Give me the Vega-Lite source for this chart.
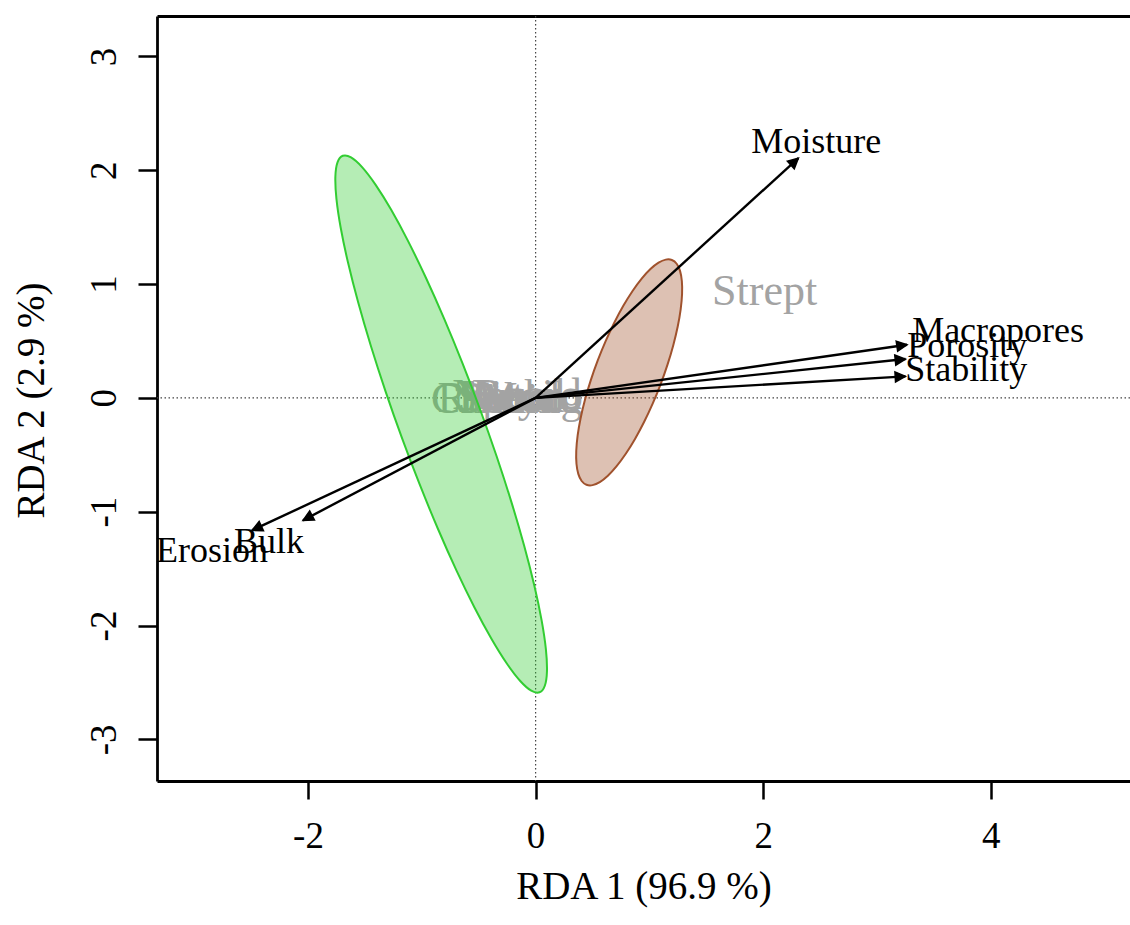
{
  "$schema": "https://vega.github.io/schema/vega-lite/v6.json",
  "width": 973,
  "height": 765,
  "autosize": {"type": "none"},
  "padding": {"left": 157, "top": 16, "right": 0, "bottom": 144},
  "background": "white",
  "config": {
    "view": {"stroke": null},
    "font": "Liberation Serif",
    "axis": {
      "grid": false,
      "domainColor": "black",
      "domainWidth": 2.8,
      "tickColor": "black",
      "tickWidth": 2.5,
      "labelFont": "Liberation Serif",
      "labelColor": "black",
      "titleFont": "Liberation Serif",
      "titleColor": "black",
      "titleFontWeight": "normal"
    }
  },
  "datasets": {
    "sites": [
      {"name": "Rhizo", "x": -0.40, "y": -0.12},
      {"name": "Clost", "x": -0.51, "y": -0.13},
      {"name": "Nitro", "x": -0.27, "y": -0.11},
      {"name": "Pseud", "x": -0.21, "y": -0.12},
      {"name": "Bacil", "x": -0.14, "y": -0.10},
      {"name": "Myco", "x": -0.05, "y": -0.12},
      {"name": "Arthro", "x": -0.10, "y": -0.11},
      {"name": "Sphing", "x": -0.137, "y": -0.13},
      {"name": "Nocard", "x": -0.164, "y": -0.10},
      {"name": "Acido", "x": -0.067, "y": -0.13},
      {"name": "Strept", "x": 2.012, "y": 0.813}
    ],
    "ellipses": [
      {"group": "Group 1", "k": 0, "x": -1.6944, "y": 2.1268},
      {"group": "Group 1", "k": 1, "x": -1.6217, "y": 2.1128},
      {"group": "Group 1", "k": 2, "x": -1.5249, "y": 2.0277},
      {"group": "Group 1", "k": 3, "x": -1.4071, "y": 1.8740},
      {"group": "Group 1", "k": 4, "x": -1.2716, "y": 1.6563},
      {"group": "Group 1", "k": 5, "x": -1.1228, "y": 1.3813},
      {"group": "Group 1", "k": 6, "x": -0.9651, "y": 1.0574},
      {"group": "Group 1", "k": 7, "x": -0.8032, "y": 0.6943},
      {"group": "Group 1", "k": 8, "x": -0.6422, "y": 0.3032},
      {"group": "Group 1", "k": 9, "x": -0.4869, "y": -0.1041},
      {"group": "Group 1", "k": 10, "x": -0.3420, "y": -0.5153},
      {"group": "Group 1", "k": 11, "x": -0.2119, "y": -0.9178},
      {"group": "Group 1", "k": 12, "x": -0.1006, "y": -1.2994},
      {"group": "Group 1", "k": 13, "x": -0.0115, "y": -1.6485},
      {"group": "Group 1", "k": 14, "x": 0.0528, "y": -1.9545},
      {"group": "Group 1", "k": 15, "x": 0.0902, "y": -2.2081},
      {"group": "Group 1", "k": 16, "x": 0.0997, "y": -2.4016},
      {"group": "Group 1", "k": 17, "x": 0.0809, "y": -2.5291},
      {"group": "Group 1", "k": 18, "x": 0.0344, "y": -2.5868},
      {"group": "Group 1", "k": 19, "x": -0.0383, "y": -2.5728},
      {"group": "Group 1", "k": 20, "x": -0.1351, "y": -2.4877},
      {"group": "Group 1", "k": 21, "x": -0.2530, "y": -2.3340},
      {"group": "Group 1", "k": 22, "x": -0.3884, "y": -2.1163},
      {"group": "Group 1", "k": 23, "x": -0.5372, "y": -1.8413},
      {"group": "Group 1", "k": 24, "x": -0.6950, "y": -1.5174},
      {"group": "Group 1", "k": 25, "x": -0.8568, "y": -1.1543},
      {"group": "Group 1", "k": 26, "x": -1.0178, "y": -0.7632},
      {"group": "Group 1", "k": 27, "x": -1.1731, "y": -0.3559},
      {"group": "Group 1", "k": 28, "x": -1.3180, "y": 0.0553},
      {"group": "Group 1", "k": 29, "x": -1.4481, "y": 0.4578},
      {"group": "Group 1", "k": 30, "x": -1.5594, "y": 0.8394},
      {"group": "Group 1", "k": 31, "x": -1.6485, "y": 1.1885},
      {"group": "Group 1", "k": 32, "x": -1.7128, "y": 1.4945},
      {"group": "Group 1", "k": 33, "x": -1.7502, "y": 1.7481},
      {"group": "Group 1", "k": 34, "x": -1.7597, "y": 1.9416},
      {"group": "Group 1", "k": 35, "x": -1.7409, "y": 2.0691},
      {"group": "Strept", "k": 0, "x": 1.1973, "y": 1.2114},
      {"group": "Strept", "k": 1, "x": 1.1436, "y": 1.2146},
      {"group": "Strept", "k": 2, "x": 1.0803, "y": 1.1878},
      {"group": "Strept", "k": 3, "x": 1.0090, "y": 1.1316},
      {"group": "Strept", "k": 4, "x": 0.9321, "y": 1.0478},
      {"group": "Strept", "k": 5, "x": 0.8518, "y": 0.9391},
      {"group": "Strept", "k": 6, "x": 0.7706, "y": 0.8086},
      {"group": "Strept", "k": 7, "x": 0.6910, "y": 0.6603},
      {"group": "Strept", "k": 8, "x": 0.6154, "y": 0.4988},
      {"group": "Strept", "k": 9, "x": 0.5460, "y": 0.3289},
      {"group": "Strept", "k": 10, "x": 0.4850, "y": 0.1558},
      {"group": "Strept", "k": 11, "x": 0.4343, "y": -0.0152},
      {"group": "Strept", "k": 12, "x": 0.3953, "y": -0.1789},
      {"group": "Strept", "k": 13, "x": 0.3694, "y": -0.3304},
      {"group": "Strept", "k": 14, "x": 0.3571, "y": -0.4650},
      {"group": "Strept", "k": 15, "x": 0.3590, "y": -0.5787},
      {"group": "Strept", "k": 16, "x": 0.3750, "y": -0.6680},
      {"group": "Strept", "k": 17, "x": 0.4045, "y": -0.7302},
      {"group": "Strept", "k": 18, "x": 0.4467, "y": -0.7634},
      {"group": "Strept", "k": 19, "x": 0.5004, "y": -0.7666},
      {"group": "Strept", "k": 20, "x": 0.5638, "y": -0.7398},
      {"group": "Strept", "k": 21, "x": 0.6350, "y": -0.6836},
      {"group": "Strept", "k": 22, "x": 0.7119, "y": -0.5998},
      {"group": "Strept", "k": 23, "x": 0.7922, "y": -0.4911},
      {"group": "Strept", "k": 24, "x": 0.8734, "y": -0.3606},
      {"group": "Strept", "k": 25, "x": 0.9530, "y": -0.2123},
      {"group": "Strept", "k": 26, "x": 1.0286, "y": -0.0508},
      {"group": "Strept", "k": 27, "x": 1.0980, "y": 0.1191},
      {"group": "Strept", "k": 28, "x": 1.1590, "y": 0.2922},
      {"group": "Strept", "k": 29, "x": 1.2097, "y": 0.4632},
      {"group": "Strept", "k": 30, "x": 1.2487, "y": 0.6269},
      {"group": "Strept", "k": 31, "x": 1.2746, "y": 0.7784},
      {"group": "Strept", "k": 32, "x": 1.2869, "y": 0.9130},
      {"group": "Strept", "k": 33, "x": 1.2850, "y": 1.0267},
      {"group": "Strept", "k": 34, "x": 1.2690, "y": 1.1160},
      {"group": "Strept", "k": 35, "x": 1.2395, "y": 1.1782}
    ],
    "arrows": [
      {"variable": "Moisture", "x": 2.309, "y": 2.107},
      {"variable": "Macropores", "x": 3.264, "y": 0.467},
      {"variable": "Porosity", "x": 3.250, "y": 0.341},
      {"variable": "Stability", "x": 3.250, "y": 0.189},
      {"variable": "Erosion", "x": -2.492, "y": -1.164},
      {"variable": "Bulk", "x": -2.044, "y": -1.076}
    ],
    "varlabels": [
      {"variable": "Moisture", "x": 2.465, "y": 2.148},
      {"variable": "Macropores", "x": 4.064, "y": 0.488},
      {"variable": "Porosity", "x": 3.792, "y": 0.356},
      {"variable": "Stability", "x": 3.783, "y": 0.145},
      {"variable": "Erosion", "x": -2.843, "y": -1.446},
      {"variable": "Bulk", "x": -2.343, "y": -1.366}
    ]
  },
  "resolve": {"axis": {"x": "independent"}},
  "layer": [
    {
      "data": {"values": [{"x": 0}]},
      "mark": {"type": "rule", "color": "#444444", "strokeWidth": 1.2, "strokeDash": [1.5, 2.5]},
      "encoding": {
        "x": {"field": "x", "type": "quantitative", "axis": null,
              "scale": {"domain": [-3.327, 5.223], "nice": false, "zero": false}}
      }
    },
    {
      "data": {"values": [{"y": 0}]},
      "mark": {"type": "rule", "color": "#444444", "strokeWidth": 1.2, "strokeDash": [1.5, 2.5]},
      "encoding": {
        "y": {"field": "y", "type": "quantitative",
              "scale": {"domain": [-3.366, 3.355], "nice": false, "zero": false}}
      }
    },
    {
      "data": {"name": "sites"},
      "mark": {"type": "text", "font": "Liberation Serif", "fontSize": 44, "color": "#a3a3a3", "align": "center", "baseline": "alphabetic"},
      "encoding": {
        "x": {"field": "x", "type": "quantitative",
              "scale": {"domain": [-3.327, 5.223], "nice": false, "zero": false},
              "axis": {"orient": "bottom", "values": [-2, 0, 2, 4], "tickSize": 18, "labelFontSize": 37,
                       "labelExpr": "'' + datum.value",
                       "labelPadding": 48, "labelBaseline": "alphabetic", "labelFlush": false, "labelOverlap": false,
                       "title": "RDA 1 (96.9 %)", "titleFontSize": 39, "titleX": 486.5, "titleY": 117,
                       "titleAlign": "center", "titleBaseline": "alphabetic"}},
        "y": {"field": "y", "type": "quantitative",
              "scale": {"domain": [-3.366, 3.355], "nice": false, "zero": false},
              "axis": {"orient": "left", "values": [-3, -2, -1, 0, 1, 2, 3], "tickSize": 19, "labelFontSize": 37,
                       "labelExpr": "'' + datum.value",
                       "labelAngle": -90, "labelAlign": "center", "labelBaseline": "alphabetic", "labelPadding": 23,
                       "labelFlush": false, "labelOverlap": false,
                       "title": "RDA 2 (2.9 %)", "titleFontSize": 39, "titleAngle": -90, "titleX": -114, "titleY": 384,
                       "titleAlign": "center", "titleBaseline": "alphabetic"}},
        "text": {"field": "name"}
      }
    },
    {
      "data": {"name": "ellipses"},
      "transform": [{"filter": "datum.group === 'Group 1'"}],
      "mark": {"type": "line", "interpolate": "cardinal-closed", "fill": "#32cd32", "fillOpacity": 0.36, "stroke": "#32cd32", "strokeWidth": 2},
      "encoding": {
        "x": {"field": "x", "type": "quantitative",
              "axis": {"orient": "top", "labels": false, "ticks": false, "title": null, "domain": true}},
        "y": {"field": "y", "type": "quantitative"},
        "order": {"field": "k", "type": "quantitative"}
      }
    },
    {
      "data": {"name": "ellipses"},
      "transform": [{"filter": "datum.group === 'Strept'"}],
      "mark": {"type": "line", "interpolate": "cardinal-closed", "fill": "#a0522d", "fillOpacity": 0.36, "stroke": "#a0522d", "strokeWidth": 2},
      "encoding": {
        "x": {"field": "x", "type": "quantitative", "axis": null},
        "y": {"field": "y", "type": "quantitative"},
        "order": {"field": "k", "type": "quantitative"}
      }
    },
    {
      "data": {"name": "arrows"},
      "mark": {"type": "rule", "color": "black", "strokeWidth": 2.4},
      "encoding": {
        "x": {"field": "x", "type": "quantitative", "axis": null},
        "y": {"field": "y", "type": "quantitative"},
        "x2": {"datum": 0},
        "y2": {"datum": 0}
      }
    },
    {
      "data": {"name": "arrows"},
      "mark": {"type": "point", "shape": "M-1,-0.5L0,0L-1,0.5Z", "size": 420, "filled": true,
               "fill": "black", "stroke": "black", "strokeWidth": 1.5, "opacity": 1, "strokeJoin": "miter",
               "angle": {"expr": "atan2(-datum.y, datum.x) * 180 / PI"}},
      "encoding": {
        "x": {"field": "x", "type": "quantitative", "axis": null},
        "y": {"field": "y", "type": "quantitative"}
      }
    },
    {
      "data": {"name": "varlabels"},
      "mark": {"type": "text", "font": "Liberation Serif", "fontSize": 36, "color": "black", "align": "center", "baseline": "alphabetic"},
      "encoding": {
        "x": {"field": "x", "type": "quantitative", "axis": null},
        "y": {"field": "y", "type": "quantitative"},
        "text": {"field": "variable"}
      }
    }
  ]
}
